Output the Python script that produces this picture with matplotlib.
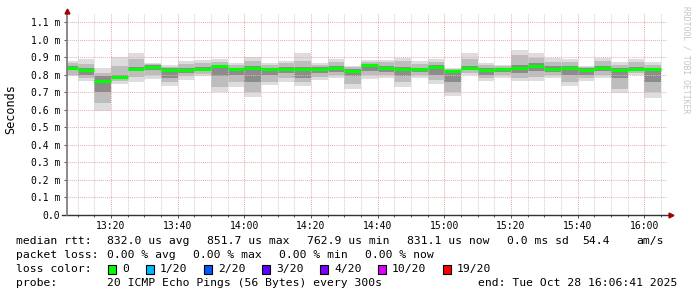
import matplotlib
matplotlib.use("Agg")
import matplotlib.pyplot as plt
import matplotlib.dates as mdates
import pandas as pd

# 5 minute rrd steps, 20 pings each (values in ms)
bar_start = pd.date_range("2025-10-28 13:05", periods=36, freq="5min")
t_begin = pd.Timestamp("2025-10-28 13:06:41")
t_end = pd.Timestamp("2025-10-28 16:06:41")

median = [0.840, 0.828, 0.763, 0.787, 0.834, 0.845, 0.828, 0.826, 0.832, 0.848,
          0.830, 0.835, 0.830, 0.834, 0.830, 0.834, 0.839, 0.822, 0.852, 0.837,
          0.830, 0.830, 0.841, 0.822, 0.836, 0.828, 0.832, 0.838, 0.849, 0.834,
          0.836, 0.826, 0.839, 0.826, 0.832, 0.831]
ping_min = [0.790, 0.765, 0.595, 0.745, 0.760, 0.775, 0.737, 0.770, 0.794, 0.700,
            0.731, 0.674, 0.738, 0.755, 0.737, 0.769, 0.779, 0.720, 0.777, 0.779,
            0.731, 0.779, 0.748, 0.680, 0.796, 0.762, 0.783, 0.762, 0.766, 0.783,
            0.737, 0.763, 0.779, 0.693, 0.798, 0.667]
ping_max = [0.880, 0.890, 0.835, 0.900, 0.925, 0.865, 0.855, 0.877, 0.883, 0.889,
            0.864, 0.898, 0.864, 0.877, 0.921, 0.864, 0.889, 0.851, 0.883, 0.883,
            0.896, 0.877, 0.889, 0.836, 0.921, 0.864, 0.855, 0.940, 0.921, 0.893,
            0.889, 0.851, 0.896, 0.870, 0.889, 0.870]
p10 = [0.800, 0.780, 0.640, 0.765, 0.785, 0.800, 0.755, 0.790, 0.805, 0.730,
       0.760, 0.700, 0.760, 0.780, 0.760, 0.785, 0.795, 0.745, 0.795, 0.795,
       0.755, 0.795, 0.770, 0.700, 0.810, 0.780, 0.795, 0.780, 0.785, 0.800,
       0.760, 0.780, 0.795, 0.720, 0.810, 0.700]
p25 = [0.825, 0.800, 0.700, 0.780, 0.820, 0.825, 0.780, 0.810, 0.820, 0.790,
       0.800, 0.760, 0.795, 0.810, 0.780, 0.810, 0.815, 0.790, 0.820, 0.815,
       0.790, 0.815, 0.800, 0.755, 0.825, 0.800, 0.815, 0.810, 0.820, 0.815,
       0.800, 0.800, 0.820, 0.780, 0.820, 0.760]
p75 = [0.850, 0.835, 0.790, 0.800, 0.845, 0.852, 0.835, 0.840, 0.845, 0.855,
       0.840, 0.850, 0.840, 0.845, 0.845, 0.845, 0.850, 0.830, 0.860, 0.850,
       0.845, 0.840, 0.852, 0.828, 0.850, 0.840, 0.840, 0.855, 0.865, 0.850,
       0.850, 0.835, 0.850, 0.835, 0.845, 0.838]
p90 = [0.865, 0.860, 0.810, 0.850, 0.890, 0.860, 0.845, 0.860, 0.865, 0.870,
       0.855, 0.875, 0.855, 0.865, 0.880, 0.855, 0.870, 0.842, 0.872, 0.870,
       0.875, 0.860, 0.870, 0.832, 0.890, 0.855, 0.848, 0.910, 0.895, 0.870,
       0.870, 0.845, 0.875, 0.855, 0.870, 0.855]

y_ticks = [0.0, 0.1, 0.2, 0.3, 0.4, 0.5, 0.6, 0.7, 0.8, 0.9, 1.0, 1.1]

loss_labels = ["0", "1/20", "2/20", "3/20", "4/20", "10/20", "19/20"]
loss_colors = ["#00ff00", "#00b8ff", "#0059ff", "#5e00ff", "#7e00ff", "#dd00ff", "#ff0000"]

W, H = 697, 297
MONO = "DejaVu Sans Mono"

fig = plt.figure(figsize=(W / 100, H / 100), dpi=100)
fig.patch.set_facecolor("white")
# plot area 600 x 202 px, origin at (66.5, 215)
ax = fig.add_axes([66.5 / W, (H - 215) / H, 600 / W, 202 / H])
ax.set_facecolor("white")

x0 = mdates.date2num(bar_start)
step = 5 / 1440.0

def band(lo, hi, color):
    ax.bar(x0, [h - l for l, h in zip(lo, hi)], bottom=lo, width=step,
           align="edge", color=color, linewidth=0, zorder=1)

band(ping_min, ping_max, "#dddddd")
band(p10, p90, "#bdbdbd")
band(p25, p75, "#8c8c8c")
ax.hlines(median, x0, x0 + step, color="#00ff00", linewidth=2.2, zorder=3)

ax.set_xlim(mdates.date2num(t_begin), mdates.date2num(t_end))
ax.set_ylim(0, 1.151)

ax.xaxis.set_major_locator(mdates.MinuteLocator(byminute=[0, 20, 40]))
ax.xaxis.set_minor_locator(mdates.MinuteLocator(byminute=range(0, 60, 5)))
ax.xaxis.set_major_formatter(mdates.DateFormatter("%H:%M"))
ax.set_yticks(y_ticks)
ax.set_yticklabels(["0.0"] + ["%.1f m" % v for v in y_ticks[1:]])

ax.set_axisbelow(False)
ax.grid(True, which="minor", axis="x", color="#d2d2d2", linestyle=(0, (1, 1)), linewidth=0.75)
ax.grid(True, which="major", axis="x", color="#e8b0b0", linestyle=(0, (1, 1)), linewidth=0.75)
ax.grid(True, which="major", axis="y", color="#e8b0b0", linestyle=(0, (1, 1)), linewidth=0.75)

for s in ax.spines.values():
    s.set_visible(False)
ax.tick_params(axis="both", which="major", length=2.5, width=0.7, color="#555555",
               labelsize=7, pad=2)
ax.tick_params(axis="x", which="minor", length=1.5, width=0.7, color="#555555")
for lab in ax.get_xticklabels() + ax.get_yticklabels():
    lab.set_family(MONO)

# axes with arrow heads
ax.plot([-0.007, 1.006], [0, 0], transform=ax.transAxes, color="#333333",
        lw=1.0, clip_on=False, zorder=4)
ax.plot([0, 0], [0, 1.0], transform=ax.transAxes, color="#777777",
        lw=1.2, clip_on=False, zorder=4)
ax.plot([1.008], [0], transform=ax.transAxes, marker=">", ms=3.5, color="#a00000",
        clip_on=False, zorder=5)
ax.plot([0], [1.01], transform=ax.transAxes, marker="^", ms=3.5, color="#a00000",
        clip_on=False, zorder=5)

def px(x, y):
    return x / W, 1 - y / H

fig.text(*px(10.5, 109), "Seconds", rotation=90, ha="center", va="center",
         family=MONO, fontsize=8.5)
fig.text(*px(686, 60), "RRDTOOL / TOBI OETIKER", rotation=270, ha="center",
         va="center", family=MONO, fontsize=5.8, color="#c4c4c4")

def legend_text(x, y, s):
    fig.text(*px(x, y), s, ha="left", va="center", family=MONO, fontsize=8.2)

row1 = [(16, "median rtt:"), (107, "832.0 us avg"), (207, "851.7 us max"),
        (307, "762.9 us min"), (407, "831.1 us now"), (507, "0.0 ms sd"),
        (582, "54.4"), (636, "am/s")]
row2 = [(16, "packet loss:"), (107, "0.00 % avg"), (193, "0.00 % max"),
        (279, "0.00 % min"), (365, "0.00 % now")]
for x, s in row1:
    legend_text(x, 241, s)
for x, s in row2:
    legend_text(x, 255, s)

legend_text(16, 269, "loss color:")
box_x = [108, 146, 204, 262, 320, 378, 443]
for bx, lab, col in zip(box_x, loss_labels, loss_colors):
    fig.patches.append(plt.Rectangle(px(bx, 273.5), 8 / W, 9 / H, transform=fig.transFigure,
                                     facecolor=col, edgecolor="black", linewidth=0.8))
    legend_text(bx + 14, 269, lab)

legend_text(16, 283, "probe:")
legend_text(107, 283, "20 ICMP Echo Pings (56 Bytes) every 300s")
legend_text(478, 283, "end: Tue Oct 28 16:06:41 2025")

fig.savefig("out.png", dpi=100, facecolor="white")
